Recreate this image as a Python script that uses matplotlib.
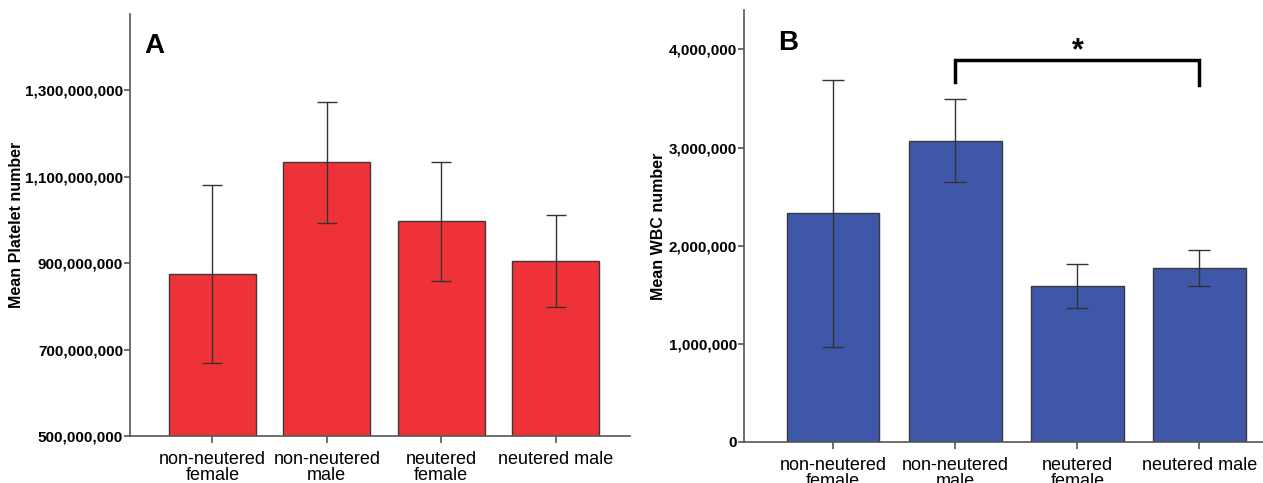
import matplotlib
matplotlib.use('Agg')
import matplotlib.pyplot as plt
from matplotlib.ticker import FuncFormatter

groups = ['non-neutered\nfemale', 'non-neutered\nmale', 'neutered\nfemale', 'neutered male']

platelet_mean = [874.6e6, 1133e6, 997e6, 905e6]
platelet_low = [670e6, 992e6, 859e6, 797.5e6]
platelet_high = [1080e6, 1274e6, 1134e6, 1012.5e6]
platelet_ticks = [500e6, 700e6, 900e6, 1100e6, 1300e6]

wbc_mean = [2.329e6, 3.066e6, 1.589e6, 1.772e6]
wbc_low = [0.968e6, 2.645e6, 1.368e6, 1.589e6]
wbc_high = [3.688e6, 3.491e6, 1.813e6, 1.956e6]
wbc_ticks = [0, 1e6, 2e6, 3e6, 4e6]

tick_font = ['Liberation Sans Narrow', 'Liberation Sans', 'DejaVu Sans']
label_font = ['Liberation Sans', 'DejaVu Sans']


def draw_panel(ax, means, low, high, ticks, color, ylim, xlim, ylabel, letter, letter_x,
               capsize, labelpad):
    x = list(range(len(means)))
    err = [[m - l for m, l in zip(means, low)], [h - m for m, h in zip(means, high)]]
    ax.bar(x, means, width=0.76, color=color, edgecolor='#3a3a3a', linewidth=1.0, zorder=2)
    ax.errorbar(x, means, yerr=err, fmt='none', ecolor='#333333', elinewidth=1.0,
                capsize=capsize, capthick=1.0, zorder=3)
    ax.set_ylim(*ylim)
    ax.set_xlim(*xlim)
    ax.set_yticks(ticks)
    ax.yaxis.set_major_formatter(FuncFormatter(lambda v, p: '{:,.0f}'.format(v)))
    ax.set_xticks(x)
    ax.set_xticklabels(groups, family=label_font, fontsize=13, linespacing=0.92)
    for t in ax.get_yticklabels():
        t.set_family(tick_font)
        t.set_fontweight('bold')
        t.set_fontsize(11)
    for s in ['top', 'right']:
        ax.spines[s].set_visible(False)
    for s in ['left', 'bottom']:
        ax.spines[s].set_color('#555555')
        ax.spines[s].set_linewidth(1.2)
    ax.tick_params(axis='y', length=4, width=1.2, color='#555555', pad=1)
    ax.tick_params(axis='x', length=5, width=1.2, color='#555555', pad=6)
    ax.set_ylabel(ylabel, family=label_font, fontweight='bold', fontsize=11.5,
                  labelpad=labelpad)
    ax.text(letter_x, 0.925, letter, transform=ax.transAxes, family=label_font,
            fontweight='bold', fontsize=20, va='center', ha='left')


fig = plt.figure(figsize=(12.63, 4.83), dpi=100)
ax1 = fig.add_axes([0.1029, 0.0973, 0.396, 0.874])
ax2 = fig.add_axes([0.589, 0.0849, 0.411, 0.894])

draw_panel(ax1, platelet_mean, platelet_low, platelet_high, platelet_ticks,
           '#ee3237', (500e6, 1477e6), (-0.72, 3.65), 'Mean Platelet number', 'A', 0.028,
           7, 1)
draw_panel(ax2, wbc_mean, wbc_low, wbc_high, wbc_ticks,
           '#3f57a9', (0, 4.40e6), (-0.73, 3.52), 'Mean WBC number', 'B', 0.065,
           8, 2)

# significance bracket between non-neutered male and neutered male
ax2.plot([1, 1, 3, 3], [3.67e6, 3.888e6, 3.888e6, 3.64e6], color='black',
         linewidth=2.5, solid_joinstyle='miter', clip_on=False, zorder=4)
ax2.text(2.0, 3.98e6, '*', ha='center', va='center', fontsize=22,
         fontweight='bold', family=label_font)

plt.savefig('out.png', dpi=100)
plt.close()
